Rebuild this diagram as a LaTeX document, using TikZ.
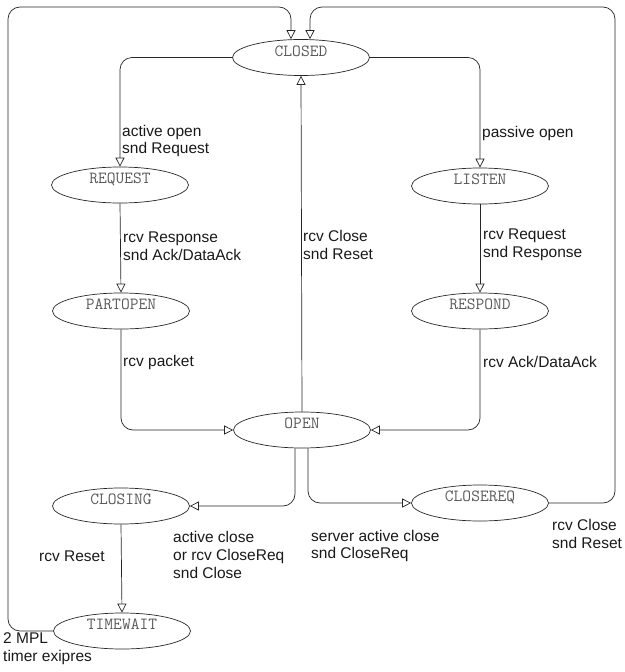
\documentclass[tikz,border=0pt]{standalone}
\usepackage{fontspec}
\setmainfont{Liberation Sans}
\usetikzlibrary{shapes.geometric,arrows.meta}
\begin{document}
\begin{tikzpicture}[x=1pt,y=-1pt,
  state/.style={ellipse, draw=black!85, line width=0.7pt, minimum width=137pt,
    minimum height=36pt, inner sep=0pt, text height=11pt, text depth=14pt,
    font=\ttfamily\fontsize{17}{19}\selectfont, text=black!65},
  arr/.style={draw=black!85, line width=0.7pt, rounded corners=12pt,
    -{Triangle[open,length=9pt,width=9pt]}},
  lbl/.style={anchor=west, align=left, inner sep=0pt,
    font=\fontsize{15.5}{17.7}\selectfont, text=black!90}]
\useasboundingbox (0,0) rectangle (624,672);

% states
\node[state] (closed)   at (301,57.5) {CLOSED};
\node[state] (request)  at (120,185)  {REQUEST};
\node[state] (listen)   at (480,186)  {LISTEN};
\node[state] (partopen) at (121,311)  {PARTOPEN};
\node[state] (respond)  at (480,311)  {RESPOND};
\node[state] (open)     at (302,430)  {OPEN};
\node[state] (closing)  at (121,506)  {CLOSING};
\node[state] (closereq) at (480,503)  {CLOSEREQ};
\node[state] (timewait) at (122,631)  {TIMEWAIT};

% corner points of the two outer return loops
\coordinate (lefttop)  at (8,7);
\coordinate (righttop) at (615,7);

% transitions
\draw[arr] (closed.west) -| (request.north);
\draw[arr] (closed.east) -| (listen.north);
\draw[arr] (request.south) -- (partopen.north);
\draw[arr] (listen.south) -- (respond.north);
\draw[arr] (partopen.south) |- (open.west);
\draw[arr] (respond.south) |- (open.east);
\draw[arr] (open.north) -- (closed.south);
\draw[arr] ([xshift=-7pt]open.south) |- (closing.east);
\draw[arr] ([xshift=6pt]open.south) |- (closereq.west);
\draw[arr] (closing.south) -- (timewait.north);
\draw[arr] (timewait.west) -| (lefttop) -| ([xshift=-10pt]closed.north);
\draw[arr] (closereq.east) -| (righttop) -| ([xshift=9pt]closed.north);

% transition labels
\node[lbl] (l1)  at (122,141) {active open\\snd Request};
\node[lbl] (l2)  at (482,133) {passive open};
\node[lbl] (l3)  at (123,246) {rcv Response\\snd Ack/DataAck};
\node[lbl] (l4)  at (303,245) {rcv Close\\snd Reset};
\node[lbl] (l5)  at (483,245) {rcv Request\\snd Response};
\node[lbl] (l6)  at (123,362) {rcv packet};
\node[lbl] (l7)  at (483,362) {rcv Ack/DataAck};
\node[lbl] (l8)  at (39,556)  {rcv Reset};
\node[lbl] (l9)  at (173,555) {active close\\or rcv CloseReq\\snd Close};
\node[lbl] (l10) at (311,546) {server active close\\snd CloseReq};
\node[lbl] (l11) at (552,534) {rcv Close\\snd Reset};
\node[lbl] (l12) at (3,649)   {2 MPL\\timer exipres};
\end{tikzpicture}
\end{document}
